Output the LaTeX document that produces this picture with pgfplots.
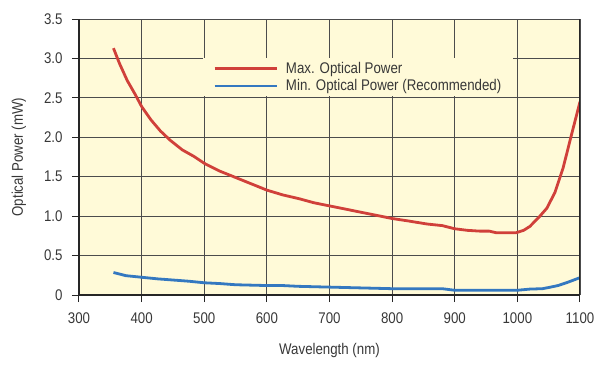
\documentclass[border=0pt]{standalone}
\usepackage{fontspec}
\setmainfont{Liberation Sans}[FakeStretch=0.86]
\usepackage{pgfplots}
\pgfplotsset{compat=1.18}
\definecolor{bg}{RGB}{255,250,216}
\definecolor{myred}{RGB}{208,64,58}
\definecolor{myblue}{RGB}{52,120,192}
\definecolor{txt}{RGB}{55,55,55}
\begin{document}
\begin{tikzpicture}
\path[use as bounding box] (-79bp,-73bp) rectangle (521bp,295bp);
\begin{axis}[
 scale only axis, width=501bp, height=276bp,
 xmin=300, xmax=1100, ymin=0, ymax=3.5,
 axis background/.style={fill=bg},
 axis x line*=bottom, axis y line*=left,
 axis line style={line width=1.6bp, black!85},
 xtick={300,400,...,1100},
 ytick={0,0.5,1,1.5,2,2.5,3,3.5},
 yticklabels={0,0.5,1.0,1.5,2.0,2.5,3.0,3.5},
 x tick label style={/pgf/number format/1000 sep={}},
 grid=major, grid style={line width=0.8bp, black!70},
 tick align=outside, major tick length=7bp, tick style={line width=1bp, black!85},
 /pgf/number format/assume math mode=true,
 ticklabel style={font=\fontsize{15.5}{17}\selectfont, text=txt},
 xticklabel style={yshift=-7bp},
 yticklabel style={xshift=-6bp},
 xlabel={Wavelength (nm)},
 ylabel={Optical Power (mW)},
 label style={font=\fontsize{15.5}{17}\selectfont, text=txt},
 xlabel style={at={(axis description cs:0.5,-0.2)}, anchor=center},
 ylabel style={at={(axis description cs:-0.12,0.5)}, anchor=center},
 legend image code/.code={\draw[#1] (0bp,0bp) -- (62bp,0bp); \path (68bp,0bp);},
 legend cell align=left,
 legend style={draw=none, fill=bg, at={(rel axis cs:0.2475,0.858)}, anchor=north west,
   inner xsep=10bp, inner ysep=2bp, row sep=0.5bp,
   nodes={inner sep=2bp}, font=\fontsize{15.5}{17}\selectfont, text=txt},
]
\addplot[myred, line width=2.8bp] coordinates {
(355,3.13) (365,2.93) (377,2.72) (390,2.54) (400,2.39) (415,2.22) (430,2.08) (446,1.96)
(465,1.84) (483,1.76) (500,1.67) (525,1.57) (547,1.50) (575,1.41) (600,1.33) (625,1.27)
(652,1.22) (675,1.17) (700,1.13) (725,1.09) (750,1.05) (775,1.01) (800,0.97) (825,0.94)
(856,0.90) (880,0.88) (900,0.84) (920,0.82) (940,0.81) (955,0.81) (966,0.79) (998,0.79)
(1010,0.82) (1020,0.87) (1036,1.00) (1047,1.10) (1060,1.30) (1073,1.61) (1087,2.05) (1100,2.45)
};
\addlegendentry{Max. Optical Power}
\addplot[myblue, line width=2.8bp] coordinates {
(355,0.285) (375,0.245) (400,0.225) (425,0.205) (450,0.19) (475,0.175) (500,0.155) (525,0.145)
(550,0.13) (575,0.125) (600,0.12) (625,0.12) (650,0.11) (675,0.105) (700,0.10) (750,0.09)
(800,0.08) (850,0.08) (880,0.08) (900,0.06) (950,0.06) (1000,0.06) (1020,0.075) (1040,0.08)
(1050,0.095) (1065,0.12) (1080,0.16) (1100,0.22)
};
\addlegendentry{Min. Optical Power (Recommended)}
\draw[line width=1.6bp, black!85] (rel axis cs:1,0) -- (rel axis cs:1,1);
\end{axis}
\end{tikzpicture}
\end{document}
